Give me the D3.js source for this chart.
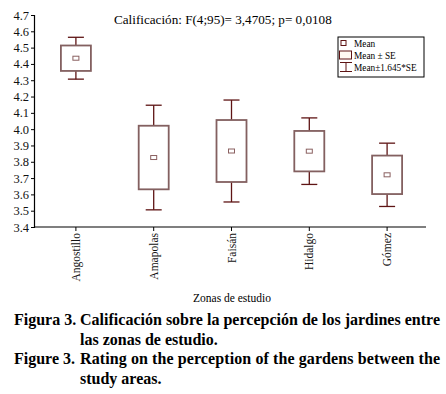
<!DOCTYPE html>
<html>
<head>
<meta charset="utf-8">
<script src="https://cdn.jsdelivr.net/npm/d3@7"></script>
<style>
  body { margin: 0; background: #fff; }
</style>
</head>
<body>
<div id="wrapper"></div>
<script>
// data
const zones = ["Angostillo", "Amapolas", "Faisán", "Hidalgo", "Gómez"]
const means = [4.435, 3.826, 3.866, 3.865, 3.720]
const se = [0.078, 0.195, 0.190, 0.124, 0.118]
const yTicks = [3.4, 3.5, 3.6, 3.7, 3.8, 3.9, 4.0, 4.1, 4.2, 4.3, 4.4, 4.5, 4.6, 4.7]
const legendLabels = ["Mean", "Mean ± SE", "Mean±1.645*SE"]
const captionLines = [
    ["Figura 3.", "Calificación sobre la percepción de los jardines entre"],
    ["", "las zonas de estudio."],
    ["Figure 3.", "Rating on the perception of the gardens between the"],
    ["", "study areas."],
]

const dataset = zones.map((z, i) => ({ zone: z, mean: means[i], se: se[i] }))

const serif = "'Liberation Serif', 'Times New Roman', Times, serif"
const width = 446
const height = 394
const plot = { left: 34, right: 426, top: 15, bottom: 227 }

const svg = d3.select("#wrapper")
    .append("svg")
    .attr("width", width)
    .attr("height", height)
    .attr("font-family", serif)

const xScale = d3.scaleBand()
    .domain(zones)
    .range([37, 426])

const yScale = d3.scaleLinear()
    .domain([3.4, 4.7])
    .range([plot.bottom, plot.top])

const boxColor = "#836060"
const whiskerColor = "#5e1414"

// axes
const yAxis = svg.append("g")
    .attr("transform", `translate(${plot.left}, 0)`)
    .call(d3.axisLeft(yScale).tickValues(yTicks).tickFormat(d3.format(".1f")).tickSizeOuter(0).tickSize(3).tickPadding(2))
yAxis.attr("font-family", serif)
yAxis.select(".domain").attr("stroke", "#000").attr("stroke-width", 1.2)
yAxis.selectAll("text").attr("font-size", 12.5).attr("fill", "#111")

svg.append("line")
    .attr("x1", plot.left).attr("x2", plot.right)
    .attr("y1", plot.bottom).attr("y2", plot.bottom)
    .attr("stroke", "#000").attr("stroke-width", 1.2)

const xAxis = svg.append("g")
    .attr("transform", `translate(0, ${plot.bottom})`)
    .call(d3.axisBottom(xScale).tickSize(4).tickSizeOuter(0))
xAxis.attr("font-family", serif)
xAxis.select(".domain").remove()
xAxis.selectAll("text")
    .attr("font-size", 11.5)
    .attr("fill", "#111")
    .attr("text-anchor", "end")
    .attr("transform", "rotate(-90)")
    .attr("x", -6)
    .attr("y", 0)
    .attr("dy", "0.35em")

svg.append("text")
    .attr("x", 232).attr("y", 302)
    .attr("text-anchor", "middle")
    .attr("font-size", 11.5)
    .text("Zonas de estudio")

const title = svg.append("text")
    .attr("x", 114).attr("y", 24)
    .attr("font-size", 13)
    .text("Calificación: F(4;95)= 3,4705; p= 0,0108")
title.attr("font-size", 13 * 218 / title.node().getComputedTextLength())

// boxes and whiskers
const boxW = 30
const capW = 16
const groups = svg.selectAll(".zone")
    .data(dataset)
    .enter().append("g")
    .attr("class", "zone")
    .attr("transform", d => `translate(${xScale(d.zone) + xScale.bandwidth() / 2}, 0)`)

groups.append("line")
    .attr("x1", 0).attr("x2", 0)
    .attr("y1", d => yScale(d.mean + 1.645 * d.se))
    .attr("y2", d => yScale(d.mean - 1.645 * d.se))
    .attr("stroke", whiskerColor).attr("stroke-width", 1.3)

groups.selectAll(".cap")
    .data(d => [d.mean + 1.645 * d.se, d.mean - 1.645 * d.se])
    .enter().append("line")
    .attr("x1", -capW / 2).attr("x2", capW / 2)
    .attr("y1", d => yScale(d)).attr("y2", d => yScale(d))
    .attr("stroke", whiskerColor).attr("stroke-width", 1.3)

groups.append("rect")
    .attr("x", -boxW / 2)
    .attr("width", boxW)
    .attr("y", d => yScale(d.mean + d.se))
    .attr("height", d => yScale(d.mean - d.se) - yScale(d.mean + d.se))
    .attr("fill", "#fff")
    .attr("stroke", boxColor).attr("stroke-width", 1.8)

groups.append("rect")
    .attr("x", -3).attr("width", 6)
    .attr("y", d => yScale(d.mean) - 2).attr("height", 4)
    .attr("fill", "#fff")
    .attr("stroke", "#8a6060").attr("stroke-width", 1)

// legend
const legend = svg.append("g").attr("transform", "translate(338, 37)")
legend.append("rect")
    .attr("width", 86).attr("height", 40)
    .attr("fill", "#fff").attr("stroke", "#000").attr("stroke-width", 1)
legend.append("rect")
    .attr("x", 3).attr("y", 3.5).attr("width", 5).attr("height", 5)
    .attr("fill", "#fff").attr("stroke", whiskerColor).attr("stroke-width", 1)
legend.append("rect")
    .attr("x", 1.5).attr("y", 14).attr("width", 12).attr("height", 8)
    .attr("fill", "#fffaf3").attr("stroke", whiskerColor).attr("stroke-width", 1)
legend.append("path")
    .attr("d", "M2,25.5H14M8,25.5V34.5M2,34.5H14")
    .attr("fill", "none").attr("stroke", whiskerColor).attr("stroke-width", 1)
legend.selectAll(".lab")
    .data(legendLabels)
    .enter().append("text")
    .attr("x", 16)
    .attr("y", (d, i) => 10 + i * 12)
    .attr("font-size", 9.3)
    .text(d => d)

// caption, hanging indent under the text after "Figura 3."
const caption = svg.append("g").attr("font-weight", "bold")
const indent = 80
const lineEnd = 440
const probe = caption.append("text").attr("font-size", 15).text(captionLines[0][1])
const capSize = Math.min(16, 15 * (lineEnd - indent) / probe.node().getComputedTextLength())
probe.remove()

captionLines.forEach((line, i) => {
    const y = 325 + i * 19.5
    if (line[0]) {
        caption.append("text")
            .attr("x", 14).attr("y", y)
            .attr("font-size", capSize)
            .text(line[0])
    }
    const t = caption.append("text")
        .attr("x", indent).attr("y", y)
        .attr("font-size", capSize)
        .text(line[1])
    if (i === 0 || i === 2) {
        if (t.node().getComputedTextLength() < lineEnd - indent)
            t.attr("textLength", lineEnd - indent).attr("lengthAdjust", "spacing")
    }
})
</script>
</body>
</html>
